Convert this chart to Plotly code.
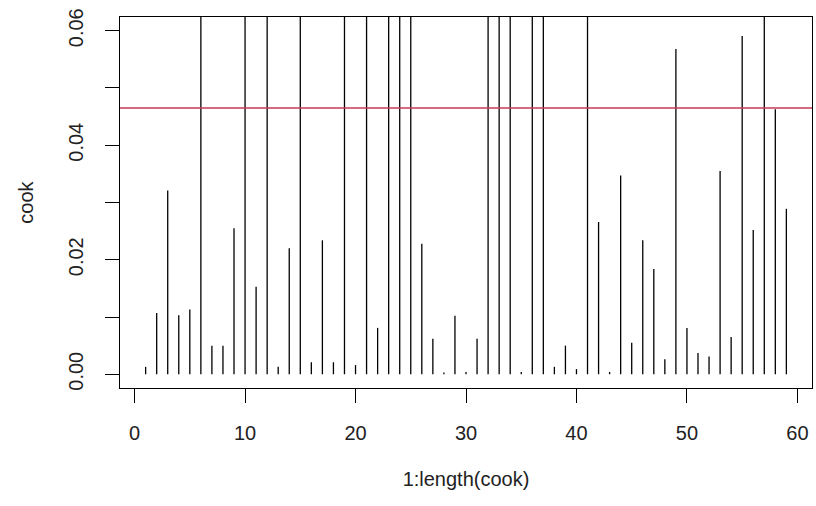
import plotly.graph_objects as go

# Cook's distance values (index 1..59); values above the plot top are clipped
index = list(range(1, 60))
cook = [
    0.0013, 0.0107, 0.0321, 0.0103, 0.0113, 0.0900, 0.0050, 0.0050, 0.0255, 0.0900,
    0.0153, 0.0900, 0.0013, 0.0220, 0.0900, 0.0021, 0.0234, 0.0021, 0.0900, 0.0016,
    0.0900, 0.0081, 0.0900, 0.0900, 0.0900, 0.0228, 0.0062, 0.0003, 0.0102, 0.0004,
    0.0062, 0.0900, 0.0900, 0.0900, 0.0004, 0.0900, 0.0900, 0.0013, 0.0050, 0.0009,
    0.0900, 0.0266, 0.0004, 0.0347, 0.0055, 0.0234, 0.0184, 0.0026, 0.0568, 0.0081,
    0.0037, 0.0031, 0.0355, 0.0065, 0.0591, 0.0252, 0.0900, 0.0463, 0.0289,
]
cutoff = 0.0465

x_ticks = [0, 10, 20, 30, 40, 50, 60]
y_ticks = [0.00, 0.01, 0.02, 0.03, 0.04, 0.05, 0.06]
y_ticktext = ["0.00", "", "0.02", "", "0.04", "", "0.06"]

# build type="h" style vertical segments
xs, ys = [], []
for i, v in zip(index, cook):
    xs += [i, i, None]
    ys += [0, v, None]

font_family = "Liberation Sans, Arial, sans-serif"
txt = "#222222"

fig = go.Figure()
fig.add_trace(go.Scatter(x=xs, y=ys, mode="lines",
                         line=dict(color="black", width=1.3),
                         hoverinfo="skip", showlegend=False))
fig.add_trace(go.Scatter(x=[-5, 70], y=[cutoff, cutoff], mode="lines",
                         line=dict(color="#C93A55", width=1.5),
                         hoverinfo="skip", showlegend=False))

fig.update_layout(
    width=816, height=506,
    margin=dict(l=120, r=4, t=17, b=118),
    paper_bgcolor="white", plot_bgcolor="white",
    font=dict(family=font_family, size=20, color=txt),
    showlegend=False,
)
fig.update_xaxes(
    range=[-1.32, 61.32], tickvals=x_ticks, ticks="outside", ticklen=14,
    tickcolor="black", tickwidth=1, showline=True, mirror=True,
    linecolor="black", linewidth=1, showgrid=False, zeroline=False,
    ticklabelstandoff=13,
    title=dict(text="1:length(cook)", standoff=28, font=dict(size=20)),
)
fig.update_yaxes(
    range=[-0.0024, 0.0624], tickvals=y_ticks, ticktext=y_ticktext,
    ticks="outside", ticklen=14, tickcolor="black", tickwidth=1,
    tickangle=-90, showline=True, mirror=True, linecolor="black",
    linewidth=1, showgrid=False, zeroline=False, ticklabelstandoff=14,
    title=dict(text="cook", standoff=26, font=dict(size=20)),
)

fig.write_html("out.html")
